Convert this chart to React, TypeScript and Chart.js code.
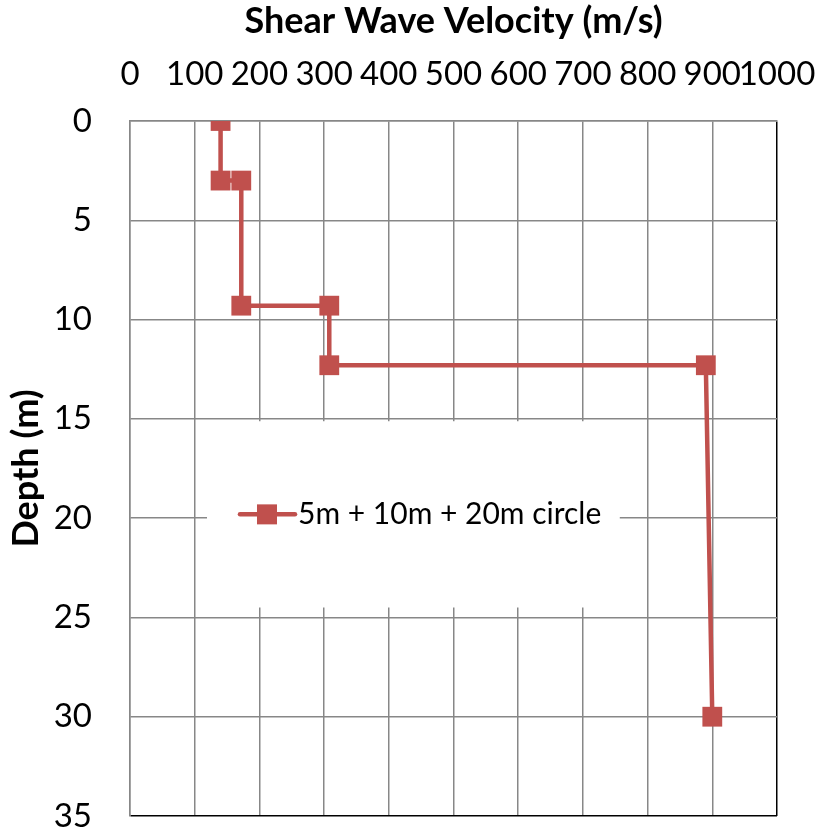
import React, { useEffect, useRef } from 'react';
import { Chart, registerables } from 'chart.js';

Chart.register(...registerables);

const seriesLabel = '5m + 10m + 20m circle';
const velocity = [140, 140, 172, 172, 308, 308, 890, 900];
const depth = [0, 3, 3, 9.3, 9.3, 12.3, 12.3, 30];
const xRange = [0, 1000];
const xStep = 100;
const yRange = [0, 35];
const yStep = 5;
const xTitle = 'Shear Wave Velocity (m/s)';
const yTitle = 'Depth (m)';

const RED = '#C0504D';
const GRID = '#878787';
const FONT = 'Lato, Carlito, Calibri, sans-serif';

const innerLegend = {
  id: 'innerLegend',
  afterDatasetsDraw(chart: any) {
    const { ctx, chartArea } = chart;
    const w = chartArea.right - chartArea.left;
    const h = chartArea.bottom - chartArea.top;
    const bx = chartArea.left + w * 0.119;
    const by = chartArea.top + h * 0.432;
    const bw = w * 0.638;
    const bh = h * 0.268;
    ctx.save();
    ctx.fillStyle = '#ffffff';
    ctx.fillRect(bx, by, bw, bh);
    const ds = chart.data.datasets[0];
    const cy = by + bh * 0.5;
    const sx = bx + 33;
    ctx.strokeStyle = ds.borderColor;
    ctx.lineWidth = 4.5;
    ctx.lineCap = 'round';
    ctx.beginPath();
    ctx.moveTo(sx, cy);
    ctx.lineTo(sx + 55, cy);
    ctx.stroke();
    ctx.fillStyle = ds.pointBackgroundColor;
    ctx.fillRect(sx + 17, cy - 10, 20, 20);
    ctx.fillStyle = '#000';
    ctx.font = `30px ${FONT}`;
    ctx.textBaseline = 'middle';
    ctx.textAlign = 'left';
    ctx.fillText(ds.label, sx + 58, cy);
    ctx.restore();
  },
};

export default function App() {
  const ref = useRef<HTMLCanvasElement>(null);
  useEffect(() => {
    document.body.style.margin = '0';
    const chart = new Chart(ref.current!, {
      type: 'line',
      data: {
        datasets: [
          {
            label: seriesLabel,
            data: velocity.map((v, i) => ({ x: v, y: depth[i] })),
            borderColor: RED,
            backgroundColor: RED,
            borderWidth: 4.5,
            pointStyle: 'rect',
            pointRadius: 14,
            pointBackgroundColor: RED,
            pointBorderColor: RED,
            pointBorderWidth: 0,
            tension: 0,
          },
        ],
      },
      options: {
        animation: false,
        responsive: false,
        layout: { padding: { left: 0, top: 0, right: 45, bottom: 18 } },
        plugins: { legend: { display: false }, tooltip: { enabled: false } },
        scales: {
          x: {
            type: 'linear',
            position: 'top',
            min: xRange[0],
            max: xRange[1],
            afterFit: (s: any) => {
              s.height = 121;
              s.paddingLeft = 0;
              s.paddingRight = 0;
            },
            ticks: {
              stepSize: xStep,
              autoSkip: false,
              maxRotation: 0,
              padding: 27,
              color: '#000',
              font: { family: FONT, size: 33 },
              callback: (v: any) => String(v),
            },
            grid: {
              drawTicks: false,
              lineWidth: 1.5,
              color: (c: any) => (c.tick && c.tick.value === xRange[1] ? '#000' : GRID),
            },
            border: { color: GRID, width: 1.5 },
            title: {
              display: true,
              text: xTitle,
              color: '#000',
              font: { family: FONT, size: 36, weight: 'bold' },
              padding: { top: 0, bottom: 0 },
            },
          },
          y: {
            type: 'linear',
            reverse: true,
            min: yRange[0],
            max: yRange[1],
            afterFit: (s: any) => {
              s.width = 130;
              s.paddingTop = 0;
              s.paddingBottom = 0;
            },
            ticks: {
              stepSize: yStep,
              autoSkip: false,
              padding: 38,
              color: '#000',
              font: { family: FONT, size: 33 },
              callback: (v: any) => String(v),
            },
            grid: {
              drawTicks: false,
              lineWidth: 1.5,
              color: (c: any) => (c.tick && c.tick.value === yRange[1] ? '#000' : GRID),
            },
            border: { color: GRID, width: 1.5 },
            title: {
              display: true,
              text: yTitle,
              color: '#000',
              font: { family: FONT, size: 36, weight: 'bold' },
              padding: { top: 5, bottom: 0 },
            },
          },
        },
      },
      plugins: [innerLegend],
    } as any);
    return () => chart.destroy();
  }, []);
  return <canvas ref={ref} width={822} height={834} style={{ display: 'block' }} />;
}
